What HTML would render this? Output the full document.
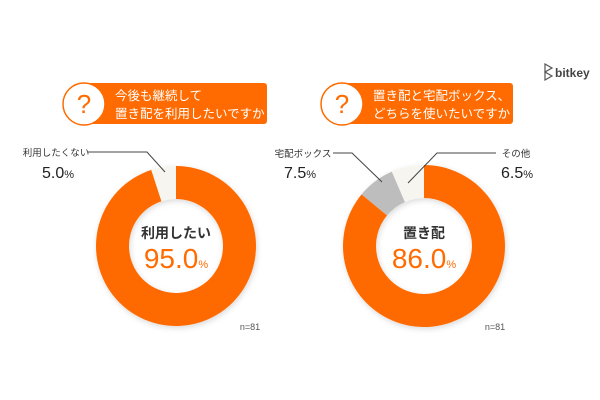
<!DOCTYPE html>
<html><head><meta charset="utf-8"><style>
body{margin:0;background:#fff;}
svg{display:block;font-family:"Liberation Sans","Noto Sans CJK JP",sans-serif;}
</style></head><body>
<svg id="c" width="600" height="400" viewBox="0 0 600 400">
<defs><filter id="sh" x="-20%" y="-20%" width="140%" height="140%"><feDropShadow dx="1" dy="2" stdDeviation="3" flood-color="#000" flood-opacity="0.15"/></filter></defs>
<g>
<path d="M545 64 L552 68 L545 72 L552 76 L545 80 Z" fill="none" stroke="#555" stroke-width="1.2"/>
<text x="555" y="77" font-size="12" fill="#444" font-weight="bold">bitkey</text>
</g>
<g>
<rect x="84" y="83" width="183" height="41" rx="3" fill="#FF6B00"/>
<circle cx="84" cy="104" r="21" fill="#fff" stroke="#FF6B00" stroke-width="1.5"/>
<text x="84" y="113" font-size="26" fill="#FF6B00" text-anchor="middle">?</text>
<text x="115" y="100" font-size="12.5" fill="#fff">今後も継続して</text>
<text x="115" y="118" font-size="12.5" fill="#fff">置き配を利用したいですか</text>
</g>
<g>
<rect x="342" y="83" width="171" height="41" rx="3" fill="#FF6B00"/>
<circle cx="342" cy="104" r="21" fill="#fff" stroke="#FF6B00" stroke-width="1.5"/>
<text x="342" y="113" font-size="26" fill="#FF6B00" text-anchor="middle">?</text>
<text x="373" y="100" font-size="12.5" fill="#fff">置き配と宅配ボックス、</text>
<text x="373" y="118" font-size="12.5" fill="#fff">どちらを使いたいですか</text>
</g>
<g id="d1"></g><g id="d2"></g>
<g fill="#333">
<text x="56" y="156" font-size="9.5" text-anchor="middle">利用したくない</text>
<text x="58" y="178" font-size="16" text-anchor="middle" fill="#222">5.0<tspan font-size="11">%</tspan></text>
<polyline points="88,152 147,152 165,172" fill="none" stroke="#444" stroke-width="1"/>
<text x="303" y="157" font-size="9.5" text-anchor="middle">宅配ボックス</text>
<text x="300" y="178" font-size="16" text-anchor="middle" fill="#222">7.5<tspan font-size="11">%</tspan></text>
<polyline points="333,153 352,153 382,182" fill="none" stroke="#444" stroke-width="1"/>
<text x="516" y="157" font-size="9.5" text-anchor="middle">その他</text>
<text x="517" y="178" font-size="16" text-anchor="middle" fill="#222">6.5<tspan font-size="11">%</tspan></text>
<polyline points="496,153 437,153 408,183" fill="none" stroke="#444" stroke-width="1"/>
<text x="250" y="330" font-size="9" text-anchor="middle" fill="#555">n=81</text>
<text x="495" y="330" font-size="9" text-anchor="middle" fill="#555">n=81</text>
</g>
<g>
<text x="176" y="238" font-size="14" font-weight="bold" text-anchor="middle" fill="#333">利用したい</text>
<text x="176" y="268" font-size="28" text-anchor="middle" fill="#FF6B00">95.0<tspan font-size="11">%</tspan></text>
</g>
<g>
<text x="424" y="238" font-size="14" font-weight="bold" text-anchor="middle" fill="#333">置き配</text>
<text x="424" y="268" font-size="28" text-anchor="middle" fill="#FF6B00">86.0<tspan font-size="11">%</tspan></text>
</g>
</svg>
<script>
const leftCategories=["利用したい","利用したくない"];
const leftValues=[95.0,5.0];
const rightCategories=["置き配","宅配ボックス","その他"];
const rightValues=[86.0,7.5,6.5];
const leftColors=["#FF6B00","#F7F5EF"];
const rightColors=["#FF6B00","#BDBDBD","#F7F5EF"];
const NS="http://www.w3.org/2000/svg";
function pt(cx,cy,r,f){const a=f*2*Math.PI-Math.PI/2;return [cx+r*Math.cos(a),cy+r*Math.sin(a)];}
function donut(gid,cx,cy,ro,ri,vals,cols,cats){
  const g=document.getElementById(gid);
  g.setAttribute('filter','url(#sh)');
  const tot=vals.reduce((a,b)=>a+b,0);let acc=0;
  vals.forEach((v,i)=>{
    const f0=acc/tot,f1=(acc+v)/tot;acc+=v;
    const la=(f1-f0)>0.5?1:0;
    const [x0,y0]=pt(cx,cy,ro,f0),[x1,y1]=pt(cx,cy,ro,f1),[x2,y2]=pt(cx,cy,ri,f1),[x3,y3]=pt(cx,cy,ri,f0);
    const p=document.createElementNS(NS,'path');
    p.setAttribute('d',`M${x0} ${y0}A${ro} ${ro} 0 ${la} 1 ${x1} ${y1}L${x2} ${y2}A${ri} ${ri} 0 ${la} 0 ${x3} ${y3}Z`);
    p.setAttribute('fill',cols[i]);
    
    
    g.appendChild(p);
  });
}
donut('d1',176,246,80,47,leftValues,leftColors,leftCategories);
donut('d2',424,246,81,48,rightValues,rightColors,rightCategories);
</script>
</body></html>
